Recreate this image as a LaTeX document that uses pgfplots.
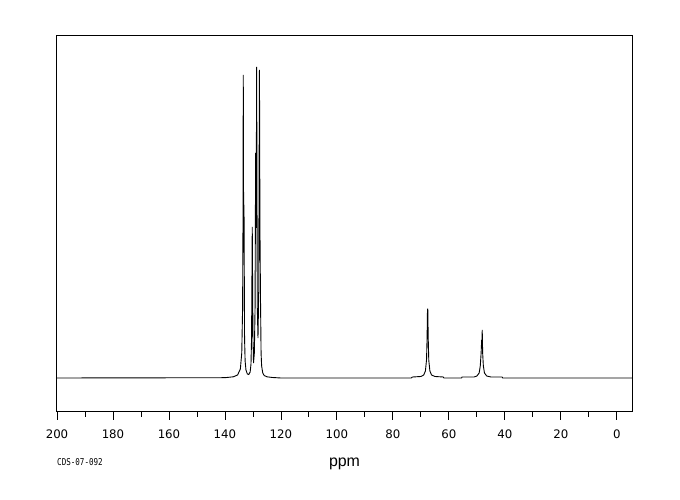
\documentclass[border=0pt]{standalone}
\usepackage{fontspec}
\setmainfont{Liberation Sans}
\setmonofont{DejaVu Sans Mono}
\newfontfamily\tickfont{DejaVu Sans}
\usepackage{graphicx}
\usepackage{pgfplots}
\pgfplotsset{compat=1.18}
\begin{document}
\begin{tikzpicture}[x=1bp,y=1bp]
\path[use as bounding box] (0,0) rectangle (680,500);
\begin{axis}[
  at={(57bp,88bp)}, anchor=south west, scale only axis,
  width=575bp, height=376bp,
  x dir=reverse, xmin=-5.4, xmax=200, ymin=-34, ymax=342,
  ytick=\empty,
  xtick={0,20,...,200}, minor xtick={10,30,...,190},
  xtick pos=bottom, tick align=outside,
  major tick length=8bp, minor tick length=5bp,
  every tick/.style={black, line width=0.9bp},
  axis line style={black, line width=1bp},
  /pgf/number format/assume math mode=true,
  xticklabel style={font=\tickfont\fontsize{11.8}{12}\selectfont, yshift=-6.5bp},
  clip=true,
]
\addplot[black, line width=0.9bp] coordinates {
(200,0) (140,0.3) (137,1.2) (135.5,3) (134.5,9) (134.0,25) (133.7,70) (133.55,160)
(133.46,303) (133.33,150) (133.2,173) (133.0,40) (132.8,17) (132.5,8) (132.0,4) (131.5,3.5)
(131.0,6) (130.7,14) (130.5,40) (130.25,151) (130.0,40) (129.8,15) (129.5,25) (129.25,70)
(129.04,225) (128.86,150) (128.68,311) (128.45,70) (128.2,40) (127.95,85) (127.68,308)
(127.5,150) (127.32,83) (127.1,25) (126.9,12) (126.5,5) (126.0,2.5) (125,1.2) (123,0.5) (120,0)
(73.5,0) (73,1) (70,1.5) (69,3) (68.4,7) (68.0,18) (67.8,40) (67.65,69) (67.55,69) (67.4,40)
(67.2,18) (66.8,7) (66.2,3) (65,1.5) (62,1) (61.8,0)
(55.5,0) (55.3,1) (51,1) (50,2) (49.2,5) (48.8,12) (48.5,25) (48.3,38) (48.2,36) (48.1,48)
(47.95,25) (47.7,12) (47.3,5) (46.5,2) (45,1) (41,1) (40.8,0) (-5.4,0)
};
\end{axis}
\node at (344.5,36) {\fontsize{16}{18}\selectfont ppm};
\node[anchor=west, inner sep=0pt] at (57,38) {\scalebox{1}[1.25]{\ttfamily\fontsize{7.6}{9}\selectfont CDS-07-092}};
\end{tikzpicture}
\end{document}
